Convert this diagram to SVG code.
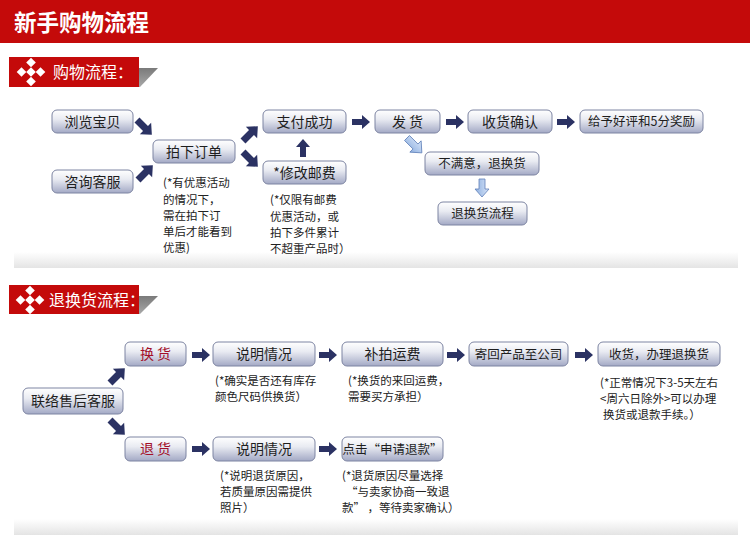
<svg xmlns="http://www.w3.org/2000/svg" xmlns:xlink="http://www.w3.org/1999/xlink" width="750" height="559" viewBox="0 0 750 559">
<style>
text{font-family:"Noto Sans CJK SC","Liberation Sans",sans-serif;}
.box{fill:url(#gBox);stroke:#7d84a2;stroke-width:1;}
.lbl{font-size:14px;fill:#1e1e1e;text-anchor:middle;}
.sm{font-size:12.5px;}
.red{fill:#a3102a;}
.note{font-size:11.5px;fill:#222;}
.arr{fill:#2b3263;}
.arrL{fill:url(#gLight);stroke:#5f7fb8;stroke-width:0.8;}
.title{fill:#fff;}
.dia{fill:#fff;}
</style>
<defs>
<linearGradient id="gBox" x1="0" y1="0" x2="0" y2="1">
<stop offset="0" stop-color="#ffffff"/>
<stop offset="0.4" stop-color="#e9ebf2"/>
<stop offset="1" stop-color="#a3a9c5"/>
</linearGradient>
<linearGradient id="gBand" x1="0" y1="0" x2="0" y2="1">
<stop offset="0" stop-color="#ffffff"/>
<stop offset="1" stop-color="#e4e4e4"/>
</linearGradient>
<linearGradient id="gLight" x1="0" y1="0" x2="0" y2="1">
<stop offset="0" stop-color="#d6e4f8"/>
<stop offset="1" stop-color="#8fb0e0"/>
</linearGradient>
<linearGradient id="gGray" x1="0" y1="0" x2="0" y2="1">
<stop offset="0" stop-color="#7a7a7a"/>
<stop offset="1" stop-color="#a8a8a8"/>
</linearGradient>
<path id="arr" d="M0,-3 H10 V-7 L18,0 L10,7 V3 H0 Z"/>
<path id="arrd" d="M0,-3.5 H12 V-8 L21,0 L12,8 V3.5 H0 Z"/>
<path id="dia" d="M0,-4.8 L4.8,0 L0,4.8 L-4.8,0 Z"/>
</defs>

<rect x="0" y="0" width="750" height="559" fill="#ffffff"/>

<!-- header -->
<g id="header">
<rect x="0" y="0" width="750" height="43" fill="#c40a0a"/>
<text x="14" y="31" font-size="22.5" font-weight="bold" class="title">新手购物流程</text>
</g>

<!-- section label 1 -->
<g id="sec1">
<polygon points="139,68 158,68 140,87 139,87" fill="url(#gGray)"/>
<rect x="9" y="57" width="130" height="30" fill="#c40a0a"/>
<use xlink:href="#dia" href="#dia" x="31" y="72" class="dia"/>
<use xlink:href="#dia" href="#dia" x="21.5" y="72" class="dia"/>
<use xlink:href="#dia" href="#dia" x="40.5" y="72" class="dia"/>
<use xlink:href="#dia" href="#dia" x="31" y="62.5" class="dia"/>
<use xlink:href="#dia" href="#dia" x="31" y="81.5" class="dia"/>
<text x="53" y="78" font-size="16" class="title">购物流程：</text>
</g>

<rect id="band1" x="14" y="252" width="724" height="16" fill="url(#gBand)"/>

<!-- section label 2 -->
<g id="sec2">
<polygon points="139,296 158,296 140,314 139,314" fill="url(#gGray)"/>
<rect x="9" y="285" width="130" height="29" fill="#c40a0a"/>
<use xlink:href="#dia" href="#dia" x="30" y="300" class="dia"/>
<use xlink:href="#dia" href="#dia" x="20.5" y="300" class="dia"/>
<use xlink:href="#dia" href="#dia" x="39.5" y="300" class="dia"/>
<use xlink:href="#dia" href="#dia" x="30" y="290.5" class="dia"/>
<use xlink:href="#dia" href="#dia" x="30" y="309.5" class="dia"/>
<text x="49" y="306" font-size="16" class="title">退换货流程：</text>
</g>

<rect id="band2" x="14" y="519" width="724" height="16" fill="url(#gBand)"/>

<!-- connectors -->
<g id="connectors">
<use href="#arrd" xlink:href="#arrd" class="arr" transform="translate(137,120) rotate(45)"/>
<use href="#arrd" xlink:href="#arrd" class="arr" transform="translate(138,180) rotate(-45)"/>
<use href="#arrd" xlink:href="#arrd" class="arr" transform="translate(243,141) rotate(-45)"/>
<use href="#arrd" xlink:href="#arrd" class="arr" transform="translate(243,152) rotate(45)"/>
<use href="#arr" xlink:href="#arr" class="arr" transform="translate(303,157) rotate(-90)"/>
<use href="#arr" xlink:href="#arr" class="arr" transform="translate(352,122)"/>
<use href="#arr" xlink:href="#arr" class="arr" transform="translate(446,122)"/>
<use href="#arr" xlink:href="#arr" class="arr" transform="translate(557,122)"/>
<use href="#arrd" xlink:href="#arrd" class="arrL" transform="translate(407,138) rotate(45)"/>
<use href="#arr" xlink:href="#arr" class="arrL" transform="translate(482,179) rotate(90)"/>

<use href="#arrd" xlink:href="#arrd" class="arr" transform="translate(110,383) rotate(-45)"/>
<use href="#arrd" xlink:href="#arrd" class="arr" transform="translate(110,420) rotate(45)"/>
<use href="#arr" xlink:href="#arr" class="arr" transform="translate(192,355)"/>
<use href="#arr" xlink:href="#arr" class="arr" transform="translate(319,355)"/>
<use href="#arr" xlink:href="#arr" class="arr" transform="translate(447,355)"/>
<use href="#arr" xlink:href="#arr" class="arr" transform="translate(575,355)"/>
<use href="#arr" xlink:href="#arr" class="arr" transform="translate(192,449)"/>
<use href="#arr" xlink:href="#arr" class="arr" transform="translate(319,449)"/>
</g>

<!-- top flow nodes -->
<g id="n-browse"><rect class="box" x="52" y="110" width="81" height="23" rx="5"/><text class="lbl" x="92.5" y="126.5">浏览宝贝</text></g>
<g id="n-consult"><rect class="box" x="52" y="170" width="81" height="23" rx="5"/><text class="lbl" x="92.5" y="186.5">咨询客服</text></g>
<g id="n-order"><rect class="box" x="153" y="140" width="82" height="23" rx="5"/><text class="lbl" x="194" y="156.5">拍下订单</text></g>
<g id="n-pay"><rect class="box" x="263" y="110" width="83" height="23" rx="5"/><text class="lbl" x="304.5" y="126.5">支付成功</text></g>
<g id="n-postage"><rect class="box" x="263" y="161" width="83" height="23" rx="5"/><text class="lbl" x="304.5" y="177.5">*修改邮费</text></g>
<g id="n-ship"><rect class="box" x="375" y="110" width="65" height="23" rx="5"/><text class="lbl" x="407.5" y="126.5">发 货</text></g>
<g id="n-confirm"><rect class="box" x="468" y="110" width="84" height="23" rx="5"/><text class="lbl" x="510" y="126.5">收货确认</text></g>
<g id="n-review"><rect class="box" x="580" y="110" width="123" height="23" rx="5"/><text class="lbl sm" x="641.5" y="126">给予好评和5分奖励</text></g>
<g id="n-unhappy"><rect class="box" x="425" y="152" width="114" height="23" rx="5"/><text class="lbl sm" x="482" y="168">不满意，退换货</text></g>
<g id="n-returnflow"><rect class="box" x="438" y="202" width="89" height="23" rx="5"/><text class="lbl sm" x="482.5" y="218">退换货流程</text></g>

<g id="notes-top">
<text class="note" x="163" y="187">(*有优惠活动</text>
<text class="note" x="163" y="204">的情况下，</text>
<text class="note" x="163" y="220">需在拍下订</text>
<text class="note" x="163" y="236">单后才能看到</text>
<text class="note" x="163" y="252">优惠)</text>
<text class="note" x="270" y="204">(*仅限有邮费</text>
<text class="note" x="270" y="221">优惠活动，或</text>
<text class="note" x="270" y="237">拍下多件累计</text>
<text class="note" x="270" y="253">不超重产品时）</text>
</g>

<!-- return flow nodes -->
<g id="b-service"><rect class="box" x="23" y="388" width="100" height="26" rx="5"/><text class="lbl" x="73" y="406">联络售后客服</text></g>
<g id="b-exchange"><rect class="box" x="125" y="342" width="61" height="24" rx="5"/><text class="lbl red" x="155.5" y="359">换 货</text></g>
<g id="b-explain1"><rect class="box" x="213" y="342" width="102" height="24" rx="5"/><text class="lbl" x="264" y="359">说明情况</text></g>
<g id="b-freight"><rect class="box" x="342" y="342" width="101" height="24" rx="5"/><text class="lbl" x="392.5" y="359">补拍运费</text></g>
<g id="b-sendback"><rect class="box" x="469" y="342" width="99" height="24" rx="5"/><text class="lbl sm" x="518.5" y="358.5">寄回产品至公司</text></g>
<g id="b-receive"><rect class="box" x="598" y="342" width="122" height="24" rx="5"/><text class="lbl sm" x="659" y="358.5">收货，办理退换货</text></g>
<g id="b-return"><rect class="box" x="125" y="437" width="61" height="24" rx="5"/><text class="lbl red" x="155.5" y="454">退 货</text></g>
<g id="b-explain2"><rect class="box" x="213" y="437" width="102" height="24" rx="5"/><text class="lbl" x="264" y="454">说明情况</text></g>
<g id="b-refund"><rect class="box" x="342" y="437" width="101" height="24" rx="5"/><text class="lbl sm" x="392.5" y="453.5">点击“申请退款”</text></g>

<g id="notes-bottom">
<text class="note" x="215" y="385">(*确实是否还有库存</text>
<text class="note" x="215" y="401">颜色尺码供换货）</text>
<text class="note" x="348" y="385">(*换货的来回运费，</text>
<text class="note" x="348" y="401">需要买方承担）</text>
<text class="note" x="600" y="387">(*正常情况下3-5天左右</text>
<text class="note" x="600" y="403">&lt;周六日除外&gt;可以办理</text>
<text class="note" x="603" y="419">换货或退款手续。）</text>
<text class="note" x="220" y="480">(*说明退货原因，</text>
<text class="note" x="220" y="496">若质量原因需提供</text>
<text class="note" x="220" y="512">照片）</text>
<text class="note" x="342" y="480">(*退货原因尽量选择</text>
<text class="note" x="346" y="496">“与卖家协商一致退</text>
<text class="note" x="342" y="512">款” ，等待卖家确认）</text>
</g>
</svg>
